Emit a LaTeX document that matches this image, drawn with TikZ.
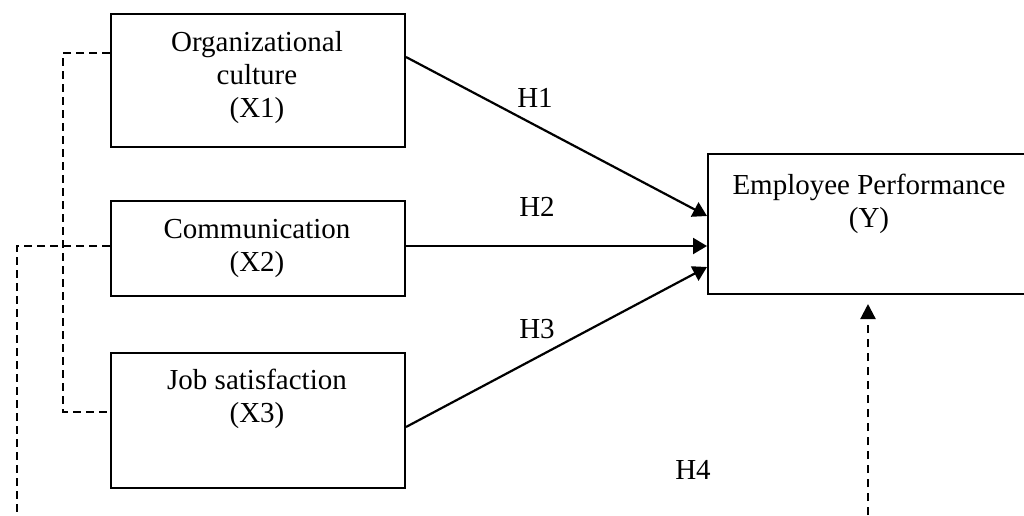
\documentclass[tikz,border=0pt]{standalone}
\usepackage{fontspec}
\setmainfont{Liberation Serif}
\usetikzlibrary{arrows.meta,calc}
\begin{document}
\begin{tikzpicture}[x=1pt,y=-1pt,
  box/.style={draw,line width=2pt,rectangle,inner sep=0pt,anchor=north west},
  txt/.style={inner sep=0pt,align=center,font=\fontsize{29}{33}\selectfont},
  lbl/.style={inner sep=0pt,font=\fontsize{29}{33}\selectfont},
  arr/.style={line width=2.2pt,-{Triangle[length=14pt,width=16pt]}},
  dsh/.style={line width=1.8pt,dash pattern=on 8pt off 5pt},
  darr/.style={line width=2.2pt,dash pattern=on 8pt off 6pt,-{Triangle[length=15pt,width=15pt]}}]
\clip (0,0) rectangle (1024,515);
\fill[white] (0,0) rectangle (1024,515);
% boxes
\node[box,minimum width=294pt,minimum height=133pt] (x1) at (110,13) {};
\node[box,minimum width=294pt,minimum height=95pt] (x2) at (110,200) {};
\node[box,minimum width=294pt,minimum height=135pt] (x3) at (110,352) {};
\node[box,minimum width=324pt,minimum height=140pt] (y) at (707,153) {};
% texts
\node[txt] (t1) at (257,78) {Organizational\\culture\\(X1)};
\node[txt] (t2) at (257,248) {Communication\\(X2)};
\node[txt] (t3) at (257,399) {Job satisfaction\\(X3)};
\node[txt] (ty) at (869,204) {Employee Performance\\(Y)};
% hypothesis labels
\node[lbl] (h1) at (535,98) {H1};
\node[lbl] (h2) at (537,207) {H2};
\node[lbl] (h3) at (537,329) {H3};
\node[lbl] (h4) at (693,470) {H4};
% arrows
\draw[arr] ($(x1.north east)+(0,44)$) -- ($(y.north west)+(0,63)$);
\draw[arr] ($(x2.north east)+(0,46)$) -- ($(y.north west)+(0,93)$);
\draw[arr] ($(x3.north east)+(0,75)$) -- ($(y.north west)+(0,114)$);
% dashed links
\coordinate (c1) at (63,53);
\coordinate (c3) at (63,412);
\coordinate (c2) at (17,246);
\coordinate (c2b) at (17,515);
\coordinate (h4b) at (868,515);
\draw[dsh] (x1.west |- c1) -- (c1) -- (c3) -- (x3.west |- c3);
\draw[dsh] (x2.west |- c2) -- (c2) -- (c2b);
\draw[darr] (h4b) -- ($(h4b |- y.south)+(0,9)$);
\end{tikzpicture}
\end{document}
